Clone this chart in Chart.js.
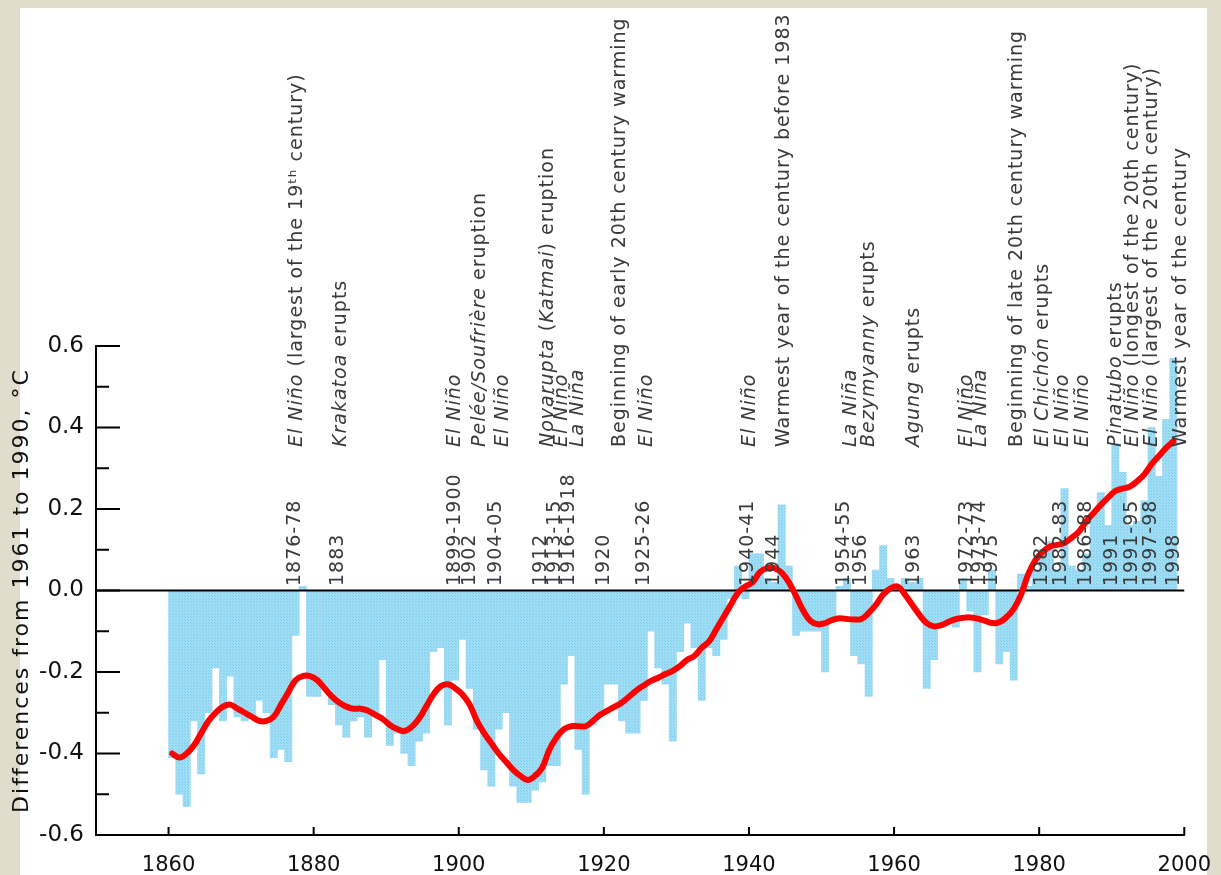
<!DOCTYPE html>
<html>
<head>
<meta charset="utf-8">
<title>Global temperature 1860-1998</title>
<script src="https://cdn.jsdelivr.net/npm/chart.js@4.4.1/dist/chart.umd.min.js"></script>
<style>
  html, body { margin: 0; padding: 0; background: #e2dccd; }
  #wrap { position: absolute; left: 0; top: 0; width: 1221px; height: 875px; }
</style>
</head>
<body>
<div id="wrap"><canvas id="tempChart"></canvas></div>
<script>
// yearly anomalies, differences from 1961 to 1990 (°C), 1860 .. 1998
const firstYear = 1860;
const anomalies = [
  -0.41, -0.50, -0.53, -0.32, -0.45, -0.30, -0.19, -0.32, -0.21, -0.31,
  -0.32, -0.31, -0.27, -0.30, -0.41, -0.39, -0.42, -0.11, 0.01, -0.26,
  -0.26, -0.24, -0.28, -0.33, -0.36, -0.32, -0.31, -0.36, -0.31, -0.17,
  -0.38, -0.35, -0.40, -0.43, -0.37, -0.35, -0.15, -0.14, -0.33, -0.22,
  -0.12, -0.24, -0.34, -0.44, -0.48, -0.34, -0.30, -0.48, -0.52, -0.52,
  -0.49, -0.47, -0.43, -0.43, -0.23, -0.16, -0.39, -0.50, -0.33, -0.30,
  -0.23, -0.23, -0.32, -0.35, -0.35, -0.27, -0.10, -0.19, -0.23, -0.37,
  -0.15, -0.08, -0.14, -0.27, -0.14, -0.16, -0.12, -0.02, 0.06, -0.02,
  0.09, 0.09, 0.03, 0.02, 0.21, 0.06, -0.11, -0.10, -0.10, -0.10,
  -0.20, -0.07, 0.01, 0.03, -0.16, -0.18, -0.26, 0.05, 0.11, 0.03,
  0.00, 0.03, 0.02, 0.03, -0.24, -0.17, -0.09, -0.08, -0.09, 0.03,
  -0.05, -0.20, -0.06, 0.05, -0.18, -0.15, -0.22, 0.04, 0.01, 0.05,
  0.10, 0.12, 0.05, 0.25, 0.06, 0.05, 0.09, 0.19, 0.24, 0.16,
  0.36, 0.29, 0.16, 0.17, 0.22, 0.40, 0.28, 0.42, 0.57,
];
// smoothed curve (red), same years
const smoothed = [
  -0.40, -0.41, -0.40, -0.38, -0.35, -0.32, -0.30, -0.285, -0.28, -0.29,
  -0.30, -0.31, -0.32, -0.32, -0.31, -0.28, -0.25, -0.22, -0.21, -0.21,
  -0.22, -0.24, -0.26, -0.275, -0.285, -0.29, -0.29, -0.295, -0.305, -0.315,
  -0.33, -0.34, -0.345, -0.335, -0.315, -0.285, -0.255, -0.235, -0.23, -0.24,
  -0.255, -0.28, -0.32, -0.35, -0.375, -0.40, -0.42, -0.44, -0.455, -0.465,
  -0.455, -0.435, -0.39, -0.36, -0.34, -0.333, -0.333, -0.333, -0.32, -0.305,
  -0.295, -0.285, -0.275, -0.26, -0.245, -0.233, -0.222, -0.214, -0.205, -0.197,
  -0.185, -0.17, -0.16, -0.14, -0.125, -0.095, -0.065, -0.035, -0.005, 0.01,
  0.02, 0.045, 0.055, 0.055, 0.044, 0.02, -0.014, -0.05, -0.075, -0.083,
  -0.08, -0.072, -0.068, -0.07, -0.071, -0.07, -0.055, -0.035, -0.01, 0.005,
  0.01, -0.01, -0.035, -0.06, -0.08, -0.088, -0.085, -0.077, -0.07, -0.067,
  -0.066, -0.069, -0.074, -0.08, -0.078, -0.065, -0.045, -0.01, 0.04, 0.075,
  0.095, 0.108, 0.112, 0.117, 0.13, 0.145, 0.17, 0.19, 0.21, 0.228,
  0.244, 0.25, 0.255, 0.268, 0.285, 0.31, 0.33, 0.35, 0.366,
];
const years = anomalies.map((_, i) => firstYear + i);

const xTickYears = [1860, 1880, 1900, 1920, 1940, 1960, 1980, 2000];
const yTickValues = [-0.6, -0.4, -0.2, 0.0, 0.2, 0.4, 0.6];
const yAxisTitle = "Differences from 1961 to 1990, °C";

// events written above the bars (_..._ = italic)
const annotLabels = [
  "1876-78", "1883", "1899-1900", "1902", "1904-05", "1912", "1913-15", "1916-1918",
  "1920", "1925-26", "1940-41", "1944", "1954-55", "1956", "1963", "1972-73",
  "1973-74", "1975", "1982", "1982-83", "1986-88", "1991", "1991-95", "1997-98", "1998",
];
const annotLabelYears = [
  1877.5, 1883.3, 1899.5, 1901.5, 1905.2, 1911.4, 1913.3, 1915.2,
  1920.0, 1925.6, 1939.9, 1943.5, 1953.1, 1955.5, 1962.7, 1970.0,
  1971.8, 1973.5, 1980.4, 1983.0, 1986.4, 1990.1, 1992.8, 1995.4, 1998.6,
];
const annotEvents = [
  "_El Niño_ (largest of the 19ᵗʰ century)", "_Krakatoa_ erupts", "_El Niño_",
  "_Pelée/Soufrière_ eruption", "_El Niño_", "_Novarupta_ (_Katmai_) eruption",
  "_El Niño_", "_La Niña_", "Beginning of early 20th century warming", "_El Niño_",
  "_El Niño_", "Warmest year of the century before 1983", "_La Niña_",
  "_Bezymyanny_ erupts", "_Agung_ erupts", "_El Niño_", "_La Niña_",
  "Beginning of late 20th century warming", "_El Chichón_ erupts", "_El Niño_",
  "_El Niño_", "_Pinatubo_ erupts", "_El Niño_ (longest of the 20th century)",
  "_El Niño_ (largest of the 20th century)", "Warmest year of the century",
];
const annotEventYears = [
  1877.7, 1883.8, 1899.5, 1902.9, 1906.1, 1912.3, 1914.3, 1916.4,
  1922.2, 1926.0, 1940.1, 1944.9, 1954.1, 1956.6, 1962.7, 1970.0,
  1972.0, 1977.0, 1980.5, 1983.3, 1986.0, 1990.6, 1993.0, 1995.5, 1999.5,
];

let ctx = document.getElementById("tempChart").getContext("2d");

// dotted light blue fill like the old gif
const tile = document.createElement("canvas");
tile.width = 3;
tile.height = 3;
const tctx = tile.getContext("2d");
tctx.fillStyle = "#a2dcf7";
tctx.fillRect(0, 0, 3, 3);
tctx.fillStyle = "#78d3e6";
tctx.fillRect(1, 1, 1, 1);
tctx.fillRect(2, 2, 1, 1);
const barFill = ctx.createPattern(tile, "repeat");

const FONT = "'DejaVu Sans', Verdana, sans-serif";

function drawUpText(c, text, x, y, size) {
  c.save();
  c.translate(x, y);
  c.rotate(-Math.PI / 2);
  c.textBaseline = "middle";
  c.textAlign = "left";
  let pos = 0;
  text.split("_").forEach((part, k) => {
    if (!part) return;
    c.font = (k % 2 ? "italic " : "") + size + "px " + FONT;
    c.fillText(part, pos, 0);
    pos += c.measureText(part).width;
  });
  c.restore();
}

const decorations = {
  id: "decorations",
  beforeDraw(chart) {
    const c = chart.ctx;
    c.save();
    c.fillStyle = "#e2dccd";
    c.fillRect(0, 0, chart.width, chart.height);
    c.fillStyle = "#ffffff";
    c.fillRect(20, 8, 1187, chart.height - 8);
    c.restore();
  },
  beforeDatasetDraw(chart, args) {
    if (args.index !== 1) return;
    // zero line sits over the bars, under the red curve
    const c = chart.ctx;
    const y0 = chart.scales.y.getPixelForValue(0);
    c.save();
    c.strokeStyle = "#000";
    c.lineWidth = 2;
    c.beginPath();
    c.moveTo(chart.chartArea.left, y0);
    c.lineTo(chart.chartArea.right, y0);
    c.stroke();
    c.restore();
  },
  afterDraw(chart) {
    const c = chart.ctx;
    const xs = chart.scales.x;
    const ys = chart.scales.y;
    const area = chart.chartArea;
    c.save();
    c.strokeStyle = "#000";
    c.lineWidth = 2;
    c.beginPath();
    // inward ticks on the y axis, minor ones half way
    yTickValues.forEach((v, i) => {
      const py = ys.getPixelForValue(v);
      c.moveTo(area.left, py);
      c.lineTo(area.left + 24, py);
      if (i < yTickValues.length - 1) {
        const pm = ys.getPixelForValue((v + yTickValues[i + 1]) / 2);
        c.moveTo(area.left, pm);
        c.lineTo(area.left + 13, pm);
      }
    });
    xTickYears.forEach((v) => {
      const px = xs.getPixelForValue(v);
      c.moveTo(px, area.bottom);
      c.lineTo(px, area.bottom - 8);
    });
    c.stroke();

    // y title
    c.fillStyle = "#111";
    c.letterSpacing = "2px";
    c.font = "22px " + FONT;
    c.translate(22, (area.top + area.bottom) / 2);
    c.rotate(-Math.PI / 2);
    c.textAlign = "center";
    c.textBaseline = "middle";
    c.fillText(yAxisTitle, 0, 0);
    c.restore();

    // event notes
    c.save();
    c.fillStyle = "#3a3a3a";
    c.letterSpacing = "1px";
    annotLabels.forEach((lab, i) => {
      drawUpText(c, lab, xs.getPixelForValue(annotLabelYears[i]), 586, 19);
    });
    annotEvents.forEach((ev, i) => {
      drawUpText(c, ev, xs.getPixelForValue(annotEventYears[i]), 447, 19);
    });
    c.restore();
  },
};

let tempChart = new Chart(ctx, {
  type: "bar",
  data: {
    datasets: [
      {
        type: "bar",
        label: "Annual",
        data: years.map((y, i) => ({ x: y + 0.5, y: anomalies[i] })),
        backgroundColor: barFill,
        borderWidth: 0,
        barPercentage: 1,
        categoryPercentage: 1,
        order: 1,
      },
      {
        type: "line",
        label: "Smoothed",
        data: years.map((y, i) => ({ x: y + 0.5, y: smoothed[i] })),
        borderColor: "#ff0000",
        borderWidth: 6,
        borderCapStyle: "round",
        pointRadius: 0,
        tension: 0.4,
        fill: false,
        order: 0,
      },
    ],
  },
  options: {
    responsive: true,
    maintainAspectRatio: false,
    animation: false,
    layout: {
      padding: { top: 346, right: 34, bottom: 0, left: 0 },
    },
    scales: {
      x: {
        type: "linear",
        min: 1850,
        max: 2000,
        offset: false,
        grid: { display: false },
        border: { display: true, color: "#000", width: 2 },
        afterBuildTicks: (scale) => {
          scale.ticks = xTickYears.map((v) => ({ value: v }));
        },
        afterFit: (scale) => {
          scale.height = 40;
        },
        ticks: {
          padding: 10,
          color: "#111",
          font: { family: FONT, size: 21 },
          maxRotation: 0,
          callback: (v) => String(v),
        },
      },
      y: {
        min: -0.6,
        max: 0.6,
        grid: { display: false },
        border: { display: true, color: "#000", width: 2 },
        afterBuildTicks: (scale) => {
          scale.ticks = yTickValues.map((v) => ({ value: v }));
        },
        afterFit: (scale) => {
          scale.width = 96;
        },
        ticks: {
          padding: 4,
          color: "#111",
          font: { family: FONT, size: 23 },
          callback: (v) => v.toFixed(1),
        },
      },
    },
    plugins: {
      legend: { display: false },
      tooltip: { enabled: false },
    },
  },
  plugins: [decorations],
});
</script>
</body>
</html>
